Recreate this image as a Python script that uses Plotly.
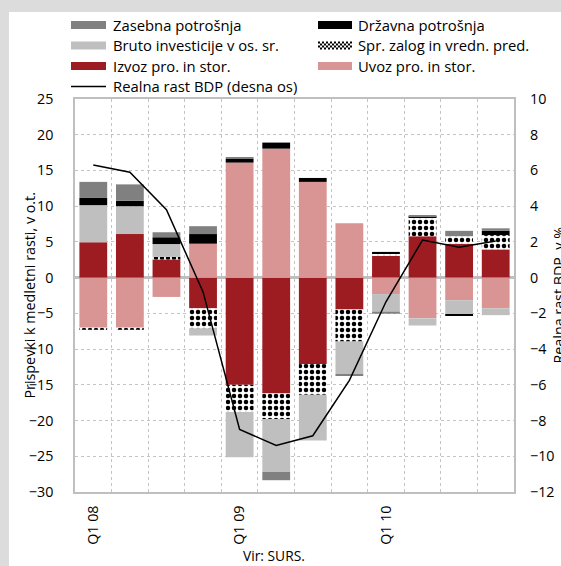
import plotly.graph_objects as go

# ---------------- data ----------------
categories = ["Q1 08", "Q2 08", "Q3 08", "Q4 08", "Q1 09", "Q2 09",
              "Q3 09", "Q4 09", "Q1 10", "Q2 10", "Q3 10", "Q4 10"]
tick_labels = ["Q1 08", "", "", "", "Q1 09", "", "", "", "Q1 10", "", "", ""]

izvoz = [4.95, 6.1, 2.55, -4.3, -15.0, -16.2, -12.1, -4.45, 3.05, 5.8, 4.75, 3.95]
uvoz = [-7.0, -7.0, -2.7, 4.75, 16.1, 18.05, 13.4, 7.6, -2.3, -5.7, -3.15, -4.3]
zalog = [-0.3, -0.3, 0.35, -2.8, -3.8, -3.6, -4.3, -4.5, 0.35, 2.6, 1.05, 2.0]
bruto = [5.2, 3.9, 1.8, -1.0, -6.35, -7.4, -6.4, -4.55, -2.45, -1.0, -2.0, -0.95]
drzavna = [1.0, 0.75, 0.95, 1.35, 0.55, 0.85, 0.55, 0.0, 0.2, 0.2, -0.2, 0.6]
zasebna = [2.25, 2.3, 0.7, 1.1, 0.2, -1.15, 0.0, -0.15, -0.3, 0.1, 0.75, 0.35]
bdp = [6.3, 5.9, 3.8, -0.8, -8.5, -9.4, -8.85, -5.75, -1.35, 2.1, 1.7, 2.05]

names = {
    "zasebna": "Zasebna potrošnja",
    "drzavna": "Državna potrošnja",
    "bruto": "Bruto investicije v os. sr.",
    "zalog": "Spr. zalog in vredn. pred.",
    "izvoz": "Izvoz pro. in stor.",
    "uvoz": "Uvoz pro. in stor.",
    "bdp": "Realna rast BDP (desna os)",
}

# ---------------- styles ----------------
C_IZVOZ = "#9c1c22"
C_UVOZ = "#d99594"
C_BRUTO = "#bfbfbf"
C_DRZ = "#000000"
C_ZAS = "#808080"
GRID = "#c4c4c4"
FONT = "Open Sans"
FS = 14.3

W, H = 561, 566
ML, MR, MT, MB = 75, 47, 99, 74
PW = W - ML - MR
PH = H - MT - MB


def px(x):
    return (x - ML) / PW


def py(y):
    return (H - MB - y) / PH


fig = go.Figure()

bar_series = [
    ("izvoz", izvoz, dict(color=C_IZVOZ)),
    ("uvoz", uvoz, dict(color=C_UVOZ)),
    ("zalog", zalog, dict(color="white",
                          pattern=dict(shape=".", fgcolor="black", bgcolor="white",
                                       size=6, solidity=0.45, fillmode="replace"))),
    ("bruto", bruto, dict(color=C_BRUTO)),
    ("drzavna", drzavna, dict(color=C_DRZ)),
    ("zasebna", zasebna, dict(color=C_ZAS)),
]
for key, vals, marker in bar_series:
    marker = dict(marker)
    marker["line"] = dict(width=0)
    fig.add_trace(go.Bar(x=categories, y=vals, name=names[key], marker=marker,
                         showlegend=False))

fig.add_trace(go.Scatter(x=categories, y=bdp, name=names["bdp"], yaxis="y2",
                         mode="lines", line=dict(color="black", width=1.5),
                         showlegend=False))

# ---------------- custom legend ----------------
shapes = []
annotations = []

# white panel on grey page
shapes.append(dict(type="rect", xref="paper", yref="paper",
                   x0=px(9), x1=px(W + 5), y0=py(12), y1=py(H + 5),
                   fillcolor="white", line=dict(width=0), layer="below"))

rows = [25, 45.5, 66, 86.5]
col_sw = [(71, 106), (318, 352)]
col_tx = [111, 356]
sw_h = 8
legend_items = [
    ("zasebna", 0, 0, C_ZAS), ("drzavna", 0, 1, C_DRZ),
    ("bruto", 1, 0, C_BRUTO), ("zalog", 1, 1, None),
    ("izvoz", 2, 0, C_IZVOZ), ("uvoz", 2, 1, C_UVOZ),
    ("bdp", 3, 0, "line"),
]
for key, r, c, col in legend_items:
    yc = rows[r]
    x0, x1 = col_sw[c]
    if col == "line":
        shapes.append(dict(type="line", xref="paper", yref="paper",
                           x0=px(x0), x1=px(x1), y0=py(yc), y1=py(yc),
                           line=dict(color="black", width=1.5)))
    elif col is None:
        # checkered swatch
        s = 2
        yy = yc - sw_h / 2
        ri = 0
        while yy < yc + sw_h / 2 - 0.1:
            xx = x0 + (s if ri % 2 else 0)
            while xx < x1 - 0.1:
                shapes.append(dict(type="rect", xref="paper", yref="paper",
                                   x0=px(xx), x1=px(min(xx + s, x1)),
                                   y0=py(yy), y1=py(yy + s),
                                   fillcolor="black", line=dict(width=0)))
                xx += 2 * s
            yy += s
            ri += 1
    else:
        shapes.append(dict(type="rect", xref="paper", yref="paper",
                           x0=px(x0), x1=px(x1), y0=py(yc - sw_h / 2), y1=py(yc + sw_h / 2),
                           fillcolor=col, line=dict(width=0)))
    annotations.append(dict(xref="paper", yref="paper", x=px(col_tx[c]), y=py(yc),
                            xanchor="left", yanchor="middle", showarrow=False,
                            text=names[key], font=dict(family=FONT, size=FS + 0.5, color="black")))

# axis titles and source
annotations.append(dict(xref="paper", yref="paper", x=px(29), y=0.5, textangle=-90,
                        xanchor="center", yanchor="middle", showarrow=False,
                        text="Prispevki k medletni rasti, v o.t.",
                        font=dict(family=FONT, size=FS, color="black")))
annotations.append(dict(xref="paper", yref="paper", x=px(558), y=0.5, textangle=-90,
                        xanchor="center", yanchor="middle", showarrow=False,
                        text="Realna rast BDP, v %",
                        font=dict(family=FONT, size=FS, color="black")))
annotations.append(dict(xref="paper", yref="paper", x=px(274), y=py(555),
                        xanchor="center", yanchor="middle", showarrow=False,
                        text="Vir: SURS.",
                        font=dict(family=FONT, size=FS - 0.5, color="black")))

fig.update_layout(
    width=W, height=H,
    margin=dict(l=ML, r=MR, t=MT, b=MB, autoexpand=False),
    paper_bgcolor="#dcdcdc",
    plot_bgcolor="white",
    barmode="relative",
    bargap=0.24,
    showlegend=False,
    font=dict(family=FONT, size=FS, color="black"),
    xaxis=dict(type="category", tickson="boundaries", tickmode="array",
               tickvals=categories, ticktext=tick_labels, tickangle=-90,
               ticks="", showgrid=True, gridcolor=GRID, griddash="dot", gridwidth=1,
               showline=True, linecolor="#bfbfbf", linewidth=1.5, mirror=True,
               ticklabelstandoff=6, tickfont=dict(size=FS), automargin=False),
    yaxis=dict(range=[-30, 25], dtick=5, tick0=0, ticks="",
               showgrid=True, gridcolor=GRID, griddash="dot", gridwidth=1,
               zeroline=True, zerolinecolor="#bfbfbf", zerolinewidth=2.5,
               showline=True, linecolor="#bfbfbf", linewidth=1.5, mirror=True,
               ticklabelstandoff=17, tickfont=dict(size=FS), automargin=False),
    yaxis2=dict(range=[-12, 10], dtick=2, tick0=0, overlaying="y", side="right",
                showgrid=False, zeroline=False, showline=False, ticks="",
                ticklabelstandoff=15, tickfont=dict(size=FS), automargin=False),
    shapes=shapes,
    annotations=annotations,
)

fig.write_html("out.html",
               config={"displayModeBar": False},
               post_script="document.body.style.margin='0';document.body.style.padding='0';")
